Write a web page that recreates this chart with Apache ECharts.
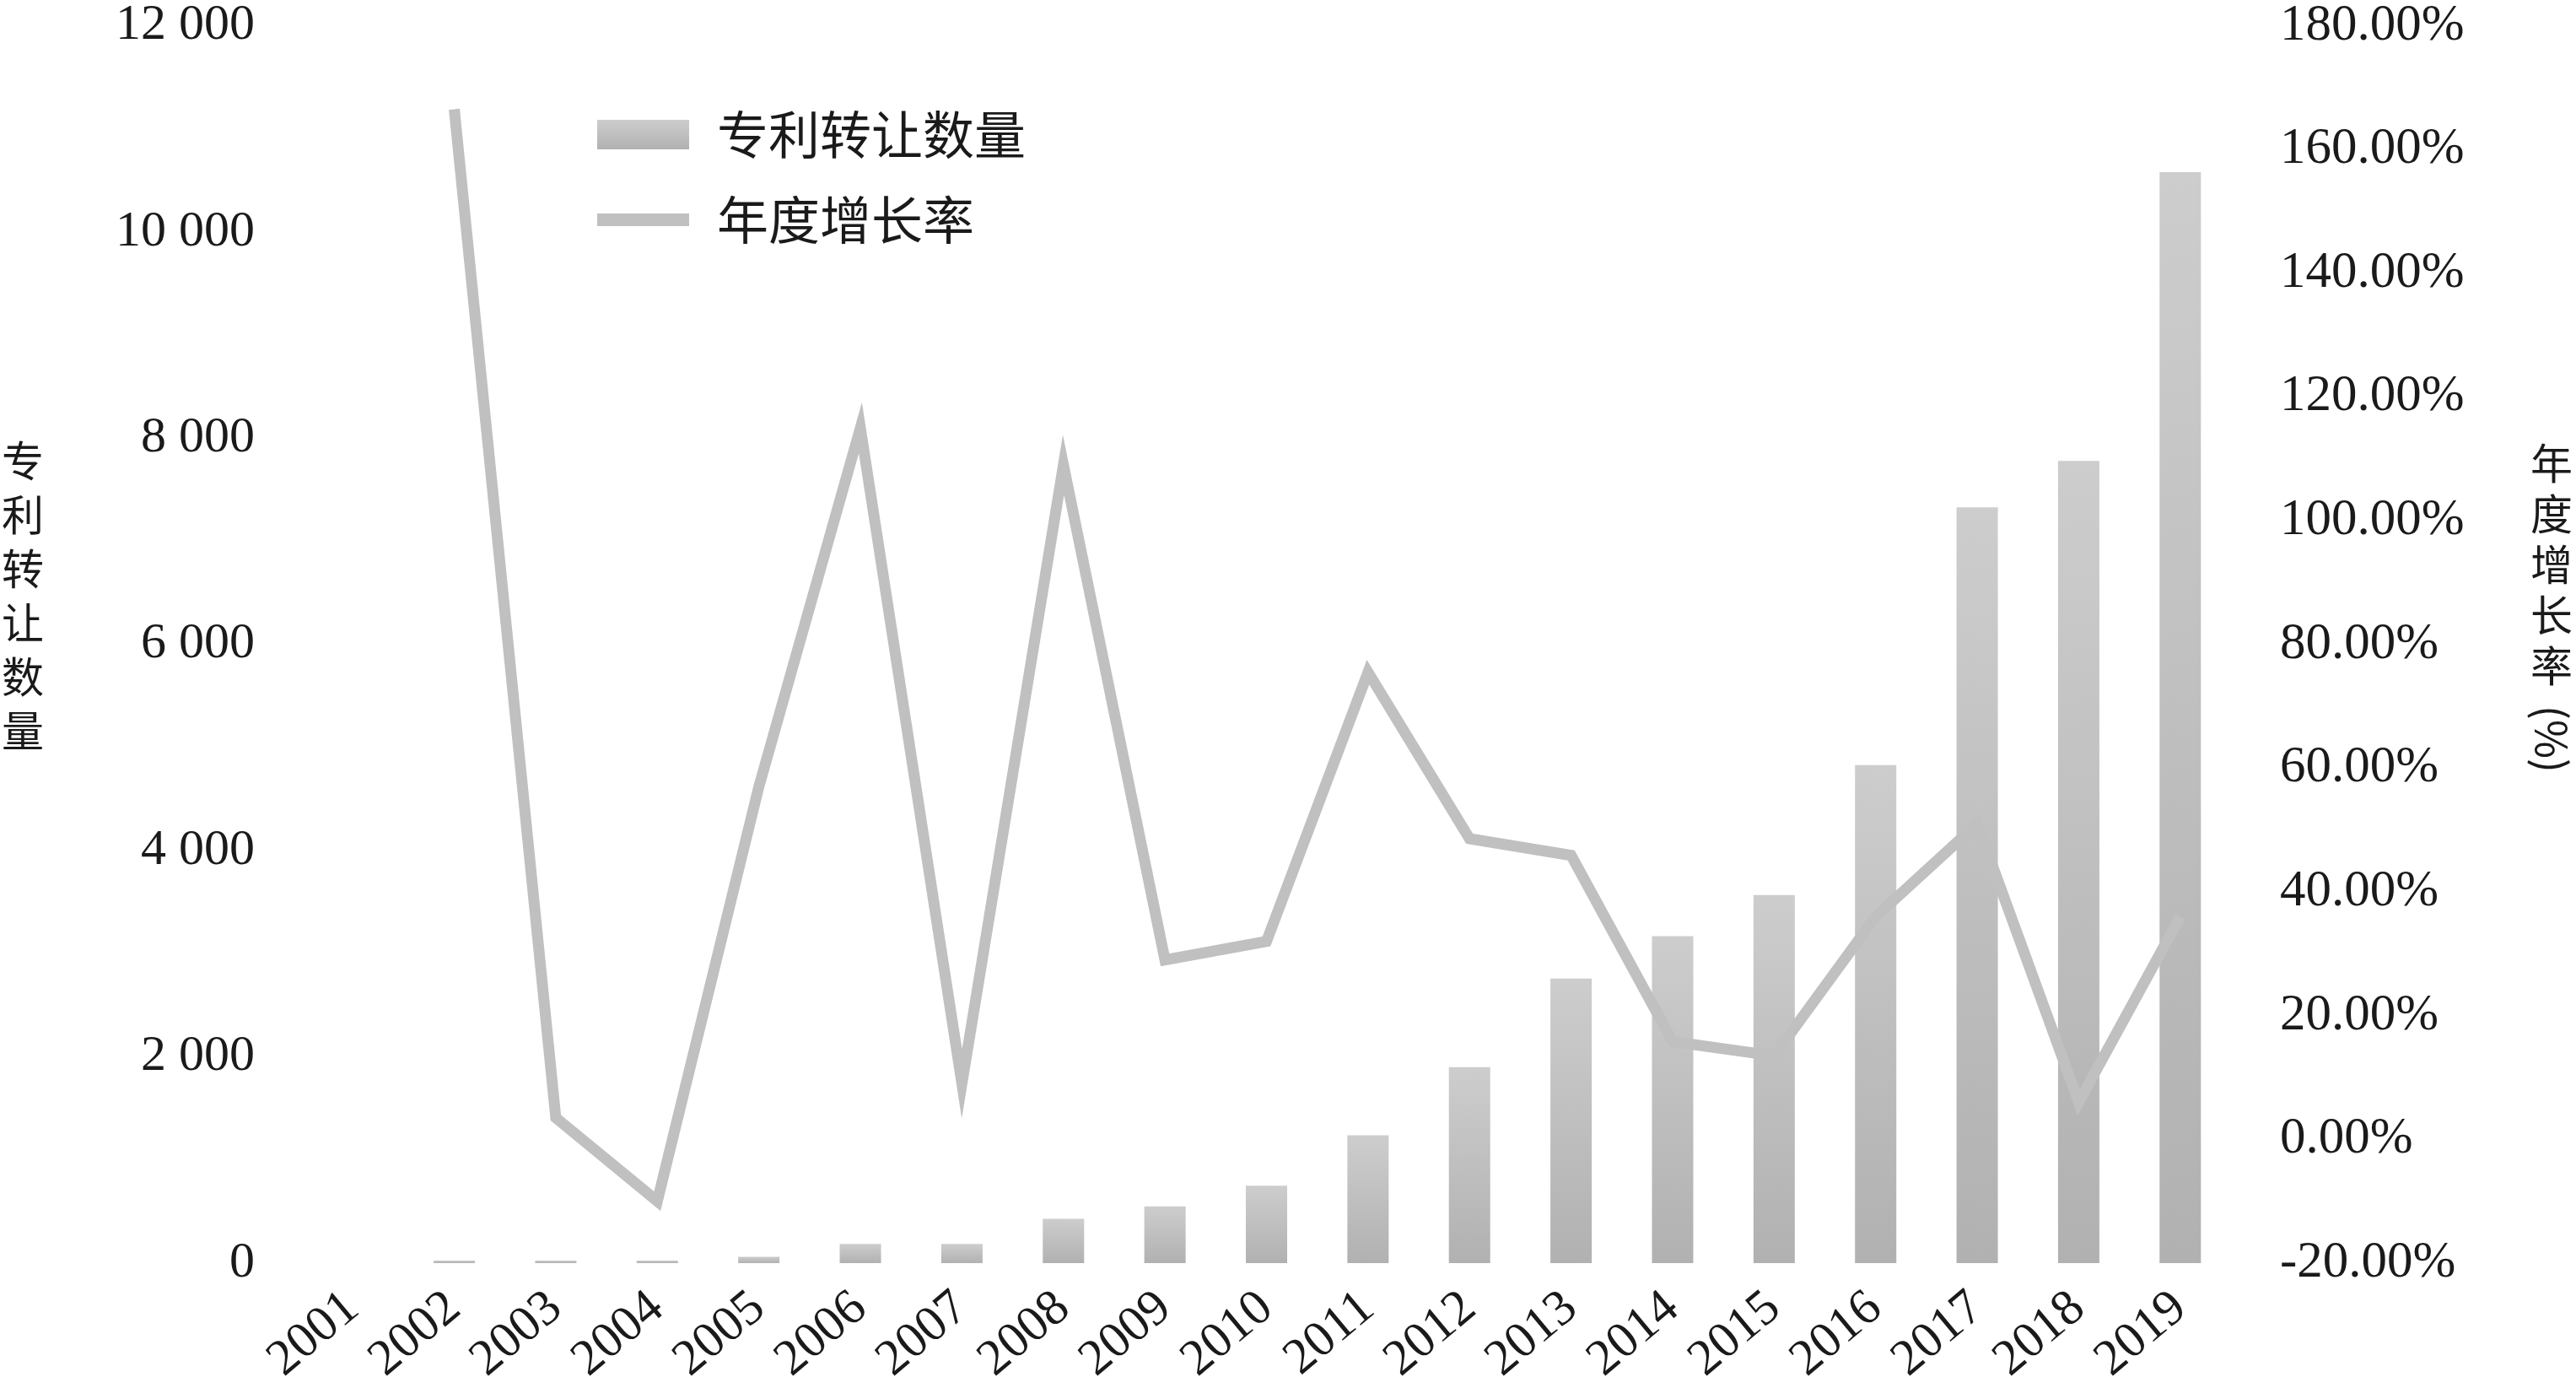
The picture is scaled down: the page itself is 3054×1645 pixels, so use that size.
<!DOCTYPE html>
<html>
<head>
<meta charset="utf-8">
<script src="https://cdn.jsdelivr.net/npm/echarts@6/dist/echarts.min.js"></script>
<style>
html,body{margin:0;padding:0;background:#fff;}
#main{width:3054px;height:1645px;}
</style>
</head>
<body>
<div id="main"></div>
<script>
var years = ['2001','2002','2003','2004','2005','2006','2007','2008','2009','2010','2011','2012','2013','2014','2015','2016','2017','2018','2019'];
var transferCount = [0, 25, 25, 25, 62, 185, 185, 430, 550, 750, 1240, 1900, 2760, 3170, 3570, 4830, 7330, 7780, 10580];
var growthRate = [null, 166.5, 3.5, -10, 57, 115, 9, 109, 29, 32, 75.5, 48.6, 45.9, 15.8, 13.5, 36, 51, 6, 36];
var leftTicks = {min: 0, max: 12000, interval: 2000};
var rightTicks = {min: -20, max: 180, interval: 20};

var serif = '"Liberation Serif", "DejaVu Serif", serif';
var cjk = '"Noto Sans CJK SC", sans-serif';

var chart = echarts.init(document.getElementById('main'));
var barGradient = new echarts.graphic.LinearGradient(0, 0, 0, 1, [
  {offset: 0, color: '#cdcdcd'},
  {offset: 1, color: '#b1b1b1'}
]);

chart.setOption({
  backgroundColor: '#ffffff',
  animation: false,
  grid: {left: 358, right: 409, top: 18, bottom: 148, containLabel: false},
  legend: [
    {
      data: [{name: '专利转让数量', icon: 'rect'}],
      left: 703, top: 124, orient: 'vertical',
      itemWidth: 109, itemHeight: 35,
      textStyle: {fontFamily: cjk, fontSize: 61, color: '#1a1a1a', lineHeight: 60, padding: [0, 0, 0, 28]}
    },
    {
      data: [{name: '年度增长率', icon: 'rect'}],
      left: 703, top: 225, orient: 'vertical',
      itemWidth: 109, itemHeight: 15,
      textStyle: {fontFamily: cjk, fontSize: 61, color: '#1a1a1a', lineHeight: 60, padding: [0, 0, 0, 28]}
    }
  ],
  xAxis: {
    type: 'category',
    data: years,
    boundaryGap: true,
    axisLine: {show: false},
    axisTick: {show: false},
    axisLabel: {
      interval: 0, rotate: 40, margin: 46,
      fontFamily: serif, fontSize: 60, color: '#1a1a1a'
    }
  },
  yAxis: [
    {
      type: 'value',
      min: leftTicks.min, max: leftTicks.max, interval: leftTicks.interval,
      axisLine: {show: false}, axisTick: {show: false}, splitLine: {show: false},
      axisLabel: {
        margin: 56, fontFamily: serif, fontSize: 60, color: '#1a1a1a',
        formatter: function (v) { return v === 0 ? '0' : (v / 1000) + ' 000'; }
      }
    },
    {
      type: 'value',
      min: rightTicks.min, max: rightTicks.max, interval: rightTicks.interval,
      axisLine: {show: false}, axisTick: {show: false}, splitLine: {show: false},
      axisLabel: {
        margin: 58, fontFamily: serif, fontSize: 61, color: '#1a1a1a',
        formatter: function (v) { return v.toFixed(2) + '%'; }
      }
    }
  ],
  series: [
    {
      name: '专利转让数量',
      type: 'bar',
      yAxisIndex: 0,
      data: transferCount,
      barWidth: 49,
      itemStyle: {color: barGradient}
    },
    {
      name: '年度增长率',
      type: 'line',
      yAxisIndex: 1,
      data: growthRate,
      symbol: 'none',
      connectNulls: false,
      itemStyle: {color: '#c0c0c0'},
      lineStyle: {color: '#c0c0c0', width: 13, join: 'miter', cap: 'butt'},
      z: 3
    }
  ],
  graphic: [
    {
      type: 'text', x: 27, y: 514,
      style: {
        text: '专\n利\n转\n让\n数\n量',
        font: '50px "Noto Sans CJK SC", sans-serif',
        lineHeight: 64, fill: '#1a1a1a', align: 'center', verticalAlign: 'top'
      }
    },
    {
      type: 'text', x: 3025, y: 519,
      style: {
        text: '年\n度\n增\n长\n率',
        font: '50px "Noto Sans CJK SC", sans-serif',
        lineHeight: 60, fill: '#1a1a1a', align: 'center', verticalAlign: 'top'
      }
    },
    {
      type: 'text', x: 3025, y: 876, rotation: -Math.PI / 2,
      style: {
        text: '(%)',
        font: '50px "Noto Sans CJK SC", sans-serif',
        fill: '#1a1a1a', align: 'center', verticalAlign: 'middle'
      }
    }
  ]
});
</script>
</body>
</html>
